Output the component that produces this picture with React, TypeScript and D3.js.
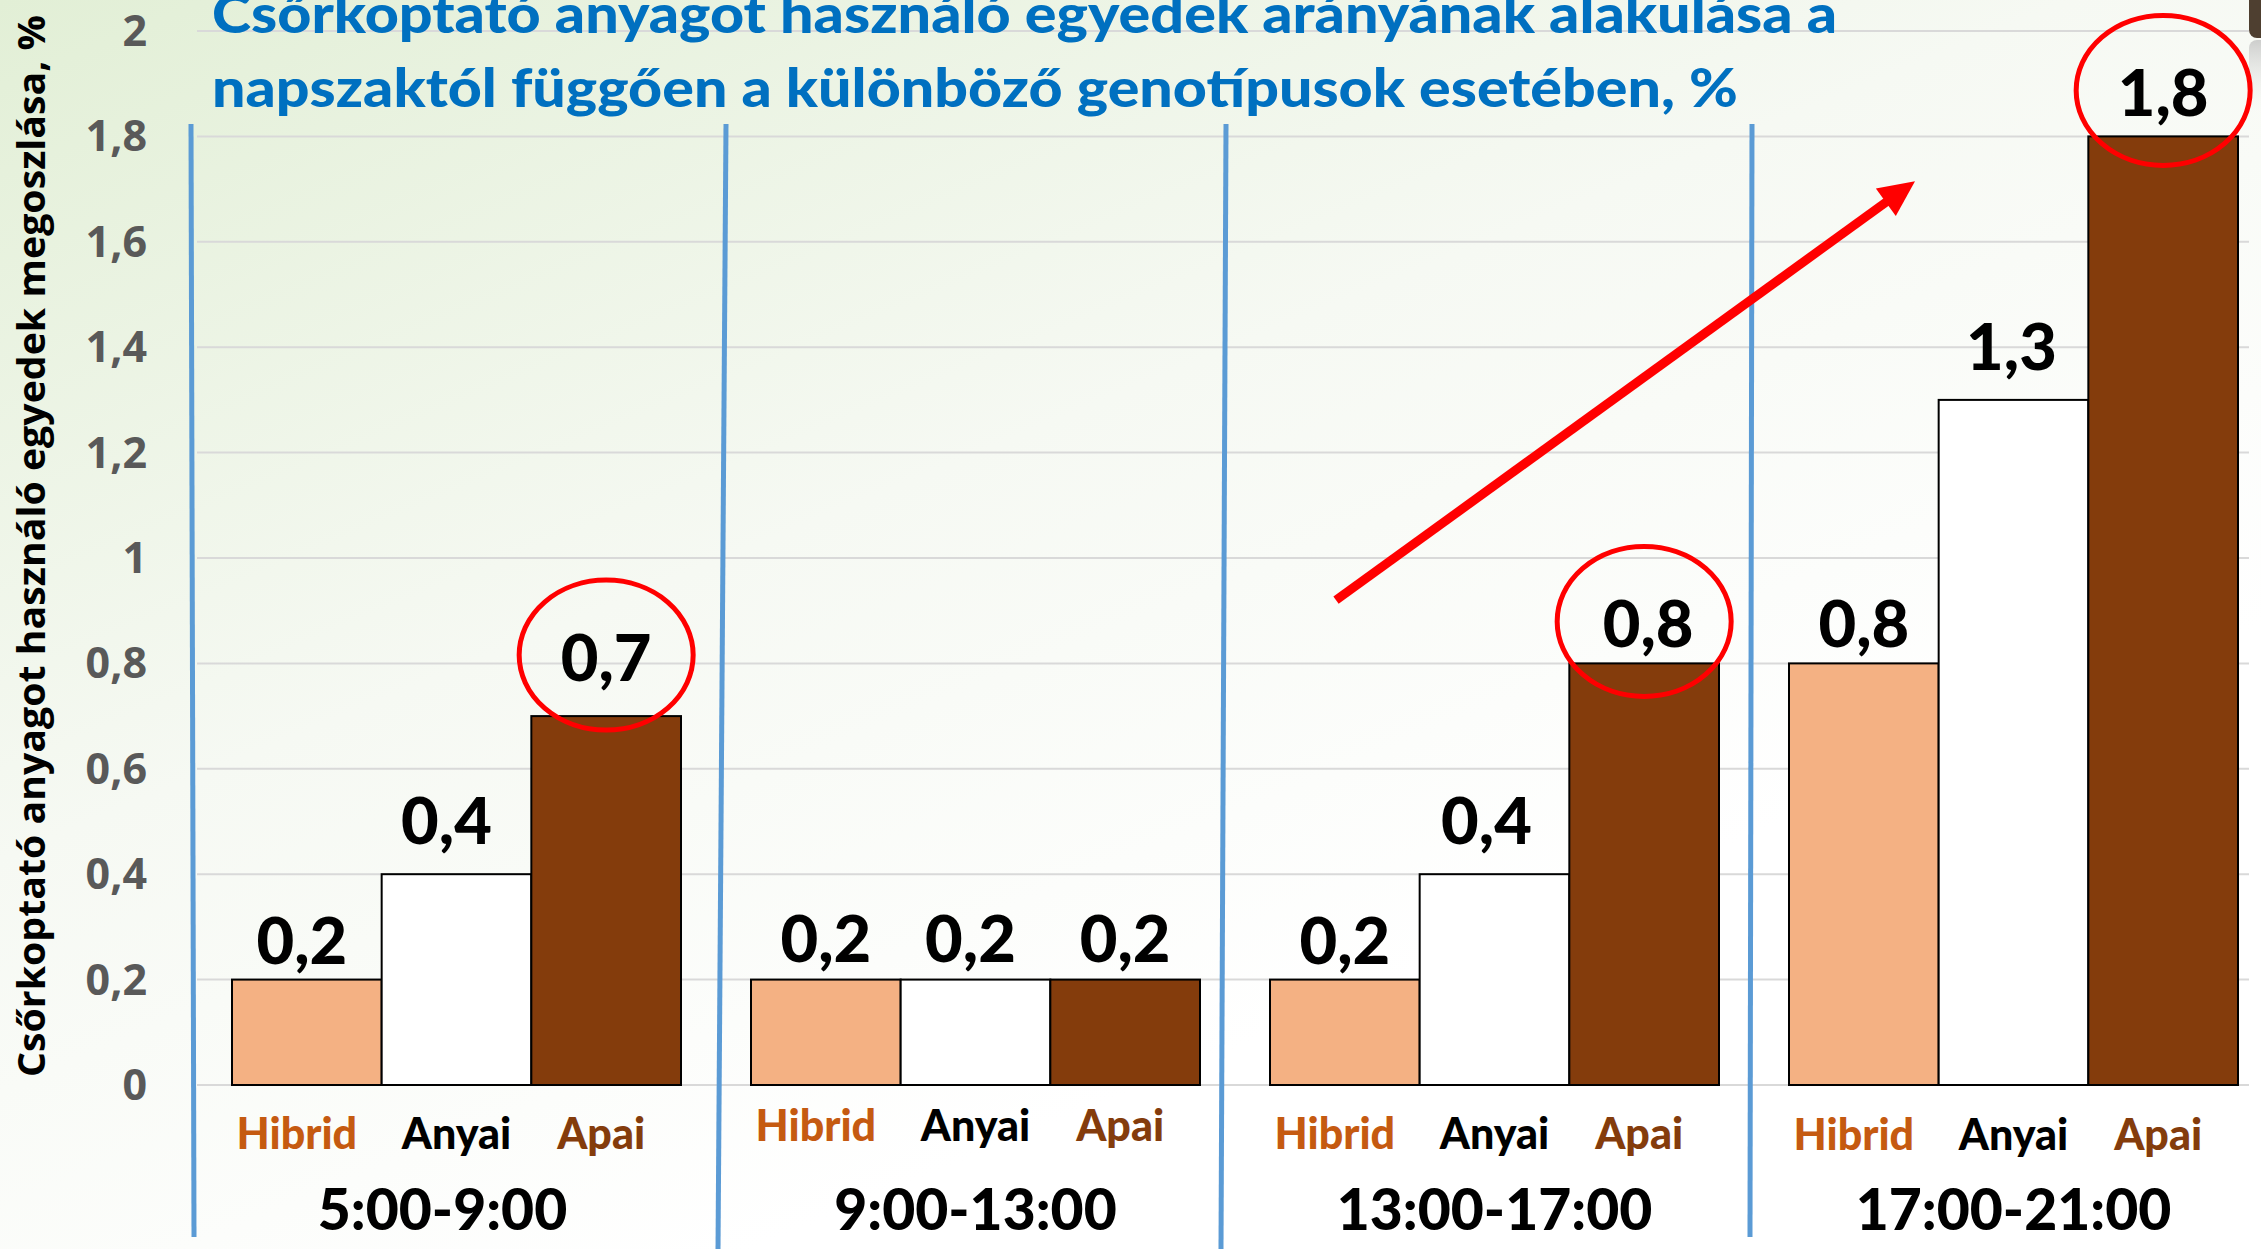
import React from "react";
import * as d3 from "d3";

const GROUPS = ["5:00-9:00", "9:00-13:00", "13:00-17:00", "17:00-21:00"];
const GENOTYPES = ["Hibrid", "Anyai", "Apai"];
const HIBRID = [0.2, 0.2, 0.2, 0.8];
const ANYAI = [0.4, 0.2, 0.4, 1.3];
const APAI = [0.7, 0.2, 0.8, 1.8];
const Y_TICKS = [0, 0.2, 0.4, 0.6, 0.8, 1, 1.2, 1.4, 1.6, 1.8, 2];
const HIGHLIGHTS = [
  { group: "5:00-9:00", genotype: "Apai" },
  { group: "13:00-17:00", genotype: "Apai" },
  { group: "17:00-21:00", genotype: "Apai" },
];
const TITLE_LINES = [
  "Csőrkoptató anyagot használó egyedek arányának alakulása a",
  "napszaktól függően a különböző genotípusok esetében, %",
];
const Y_TITLE = "Csőrkoptató anyagot használó egyedek megoszlása, %";

// layout / style tweaks (not data)
const W = 2261;
const H = 1249;
const FILL: Record<string, string> = { Hibrid: "#F4B183", Anyai: "#FFFFFF", Apai: "#843C0C" };
const TEXT_COL: Record<string, string> = { Hibrid: "#C55A11", Anyai: "#000000", Apai: "#843C0C" };
const LABEL_LIFT = [
  [16, 30, 35],
  [18, 18, 18],
  [16, 30, 16],
  [16, 30, 20],
];
const LABEL_DX = [
  [-5, -10, 0],
  [0, -5, 0],
  [0, -8, 4],
  [0, -2, 0],
];
const CAT_BASELINE = [1149, 1141, 1149, 1150];
const CAT_DX = [-10, 0, -5];
const SEP_SHIFT = [[-6, -3], [10, 2], [-9, -14], [-2, -4]];
const HEAVY = 900;

const fmt = (v: number) => String(v).replace(".", ",");

export default function App() {
  const series = [HIBRID, ANYAI, APAI];
  const y = d3.scaleLinear().domain([0, 2]).range([1085, 31]);
  const x0 = d3
    .scaleBand<string>()
    .domain(GROUPS)
    .range([197, 197 + 519 * 4])
    .paddingInner(70 / 519)
    .paddingOuter(35 / 519);
  const x1 = d3.scaleBand<string>().domain(GENOTYPES).range([0, x0.bandwidth()]).padding(0);
  const step = x0.step();
  const gap = step - x0.bandwidth();

  // arrow geometry from scales
  const tail = { x: (x0(GROUPS[2]) as number) + 66, y: y(0.92) };
  const tip = { x: (x0(GROUPS[3]) as number) + 126, y: y(1.715) };
  const ang = Math.atan2(tip.y - tail.y, tip.x - tail.x);
  const headLen = 36;
  const headHalf = 17;
  const base = { x: tip.x - headLen * Math.cos(ang), y: tip.y - headLen * Math.sin(ang) };
  const px = -Math.sin(ang);
  const py = Math.cos(ang);
  const headPts = [
    [tip.x, tip.y],
    [base.x + headHalf * px, base.y + headHalf * py],
    [base.x - headHalf * px, base.y - headHalf * py],
  ]
    .map((p) => p.join(","))
    .join(" ");

  return (
    <svg
      width={W}
      height={H}
      style={{ position: "absolute", left: 0, top: 0, display: "block" }}
      viewBox={`0 0 ${W} ${H}`}
    >
      <defs>
        <linearGradient id="bg" x1="0" y1="0" x2="0.6" y2="0.8">
          <stop offset="0" stopColor="#E2EFD6" />
          <stop offset="0.55" stopColor="#F6F9F3" />
          <stop offset="1" stopColor="#FFFFFF" />
        </linearGradient>
        <linearGradient id="photoFade" x1="0" y1="0" x2="0" y2="1">
          <stop offset="0" stopColor="#BBBBBB" stopOpacity="0.7" />
          <stop offset="1" stopColor="#FFFFFF" stopOpacity="0" />
        </linearGradient>
      </defs>
      <rect x={0} y={0} width={W} height={H} fill="url(#bg)" />

      {/* corner photo fragment */}
      <rect x={2249} y={-12} width={30} height={50} rx={8} fill="#4E3F30" />
      <rect x={2249} y={40} width={30} height={80} rx={8} fill="url(#photoFade)" />

      {/* gridlines */}
      {Y_TICKS.map((t) => (
        <line key={"g" + t} x1={197} x2={2249} y1={y(t)} y2={y(t)} stroke="#D9D9D9" strokeWidth={2} />
      ))}

      {/* y tick labels */}
      {Y_TICKS.map((t) => (
        <text
          key={"t" + t}
          x={147}
          y={y(t) + 15}
          textAnchor="end"
          fontFamily="'Open Sans', sans-serif"
          fontWeight={700}
          fontSize={43}
          fill="#595959"
        >
          {fmt(t)}
        </text>
      ))}

      {/* y axis title */}
      <text
        transform={`translate(45,1077) rotate(-90)`}
        fontFamily="'Open Sans', sans-serif"
        fontWeight={700}
        fontSize={38}
        fill="#000"
        textLength={1062}
        lengthAdjust="spacingAndGlyphs"
      >
        {Y_TITLE}
      </text>

      {/* title */}
      {TITLE_LINES.map((line, i) => (
        <text
          key={"title" + i}
          x={212}
          y={i === 0 ? 33 : 107}
          fontFamily="Lato, sans-serif"
          fontWeight={HEAVY}
          fontSize={54}
          fill="#0070C0"
          textLength={i === 0 ? 1625 : 1526}
          lengthAdjust="spacingAndGlyphs"
        >
          {line}
        </text>
      ))}

      {/* bars */}
      {GROUPS.map((g, gi) => (
        <g key={g} transform={`translate(${x0(g)},0)`}>
          {GENOTYPES.map((k, si) => {
            const v = series[si][gi];
            return (
              <rect
                key={k}
                x={x1(k)}
                y={y(v)}
                width={x1.bandwidth()}
                height={y(0) - y(v)}
                fill={FILL[k]}
                stroke="#000"
                strokeWidth={2}
              />
            );
          })}
          {GENOTYPES.map((k, si) => {
            const v = series[si][gi];
            return (
              <text
                key={"v" + k}
                x={(x1(k) as number) + x1.bandwidth() / 2 + LABEL_DX[gi][si]}
                y={y(v) - LABEL_LIFT[gi][si]}
                textAnchor="middle"
                fontFamily="Lato, sans-serif"
                fontWeight={HEAVY}
                fontSize={65}
                fill="#000"
              >
                {fmt(v)}
              </text>
            );
          })}
          {GENOTYPES.map((k, si) => (
            <text
              key={"c" + k}
              x={(x1(k) as number) + x1.bandwidth() / 2 + CAT_DX[si]}
              y={CAT_BASELINE[gi]}
              textAnchor="middle"
              fontFamily="Lato, sans-serif"
              fontWeight={HEAVY}
              fontSize={43}
              fill={TEXT_COL[k]}
            >
              {k}
            </text>
          ))}
          <text
            x={x0.bandwidth() / 2 - (gi === 0 ? 14 : 0)}
            y={1230}
            textAnchor="middle"
            fontFamily="Lato, sans-serif"
            fontWeight={HEAVY}
            fontSize={57}
            fill="#000"
          >
            {g}
          </text>
        </g>
      ))}

      {/* separators */}
      {GROUPS.map((g, gi) => {
        const sx = (x0(g) as number) - gap / 2;
        return (
          <line
            key={"s" + g}
            x1={sx + SEP_SHIFT[gi][0]}
            y1={124}
            x2={sx + SEP_SHIFT[gi][1]}
            y2={gi === 0 || gi === 3 ? 1237 : 1249}
            stroke="#5B9BD5"
            strokeWidth={5}
          />
        );
      })}

      {/* highlight ellipses */}
      {HIGHLIGHTS.map((h) => {
        const gi = GROUPS.indexOf(h.group);
        const si = GENOTYPES.indexOf(h.genotype);
        const v = series[si][gi];
        const cx = (x0(h.group) as number) + (x1(h.genotype) as number) + x1.bandwidth() / 2;
        const cy = y(v) - LABEL_LIFT[gi][si] - 26;
        return (
          <ellipse key={"e" + h.group} cx={cx} cy={cy} rx={87} ry={75} fill="none" stroke="#FF0000" strokeWidth={5} />
        );
      })}

      {/* arrow */}
      <line x1={tail.x} y1={tail.y} x2={base.x + 2 * Math.cos(ang)} y2={base.y + 2 * Math.sin(ang)} stroke="#FF0000" strokeWidth={9} />
      <polygon points={headPts} fill="#FF0000" />
    </svg>
  );
}
